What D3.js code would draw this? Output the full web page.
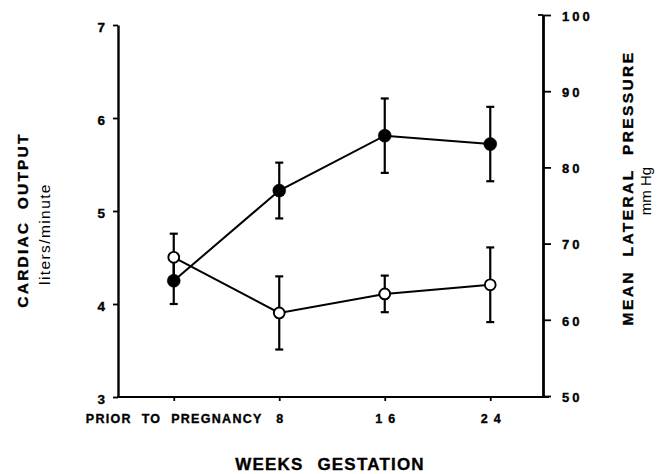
<!DOCTYPE html>
<html>
<head>
<meta charset="utf-8">
<script src="https://cdn.jsdelivr.net/npm/d3@7"></script>
<style>
  html, body { margin: 0; padding: 0; background: #fff; }
  svg { display: block; font-family: "Liberation Sans", Arial, Helvetica, sans-serif; }
  .heavy { font-weight: bold; stroke: #000; stroke-width: 0.35px; }
</style>
</head>
<body>
<svg id="chart" width="660" height="474"></svg>
<script>
// Gestation stages along the x axis
const stages = ["PRIOR TO PREGNANCY", "8", "16", "24"];

// Cardiac output (liters/minute), filled markers, left axis
const cardiacOutput = [4.25, 5.22, 5.81, 5.72];
const cardiacOutputErr = [0.25, 0.3, 0.4, 0.4];

// Mean lateral pressure (mm Hg), open markers, right axis
const pressure = [68.2, 60.9, 63.4, 64.6];
const pressureErr = [3.1, 4.8, 2.4, 4.9];

// Axis tick values
const leftTicks = [3, 4, 5, 6, 7];
const rightTicks = [50, 60, 70, 80, 90, 100];

const svg = d3.select("#chart");

const x = d3.scalePoint().domain(stages).range([121, 543]).padding(0.5);
const yL = d3.scaleLinear().domain([3, 7]).range([397, 25]);
const yR = d3.scaleLinear().domain([50, 100]).range([396, 15]);

const leftX = 118, rightX = 543, baseY = yL(3);

// ---- axes ----
const gL = svg.append("g").attr("transform", `translate(${leftX},0)`)
  .call(d3.axisLeft(yL).tickValues(leftTicks).tickFormat(d3.format("d"))
    .tickSize(5).tickSizeOuter(0).tickPadding(8));
gL.select(".domain").attr("stroke-width", 2.4);
gL.selectAll(".tick line").attr("stroke-width", 1.8);
gL.selectAll(".tick text").attr("class", "heavy").attr("font-size", 13.5)
  .attr("dy", "0.5em").attr("fill", "#000");

const gR = svg.append("g").attr("transform", `translate(${rightX},0)`)
  .call(d3.axisRight(yR).tickValues(rightTicks).tickSize(8).tickSizeOuter(0).tickPadding(11));
gR.select(".domain").attr("stroke-width", 2.8);
gR.selectAll(".tick line").attr("stroke-width", 1.8);
gR.selectAll(".tick text").attr("class", "heavy").attr("font-size", 13)
  .attr("letter-spacing", "3px").attr("dy", "0.4em").attr("fill", "#000");
// cap at the top of the pressure axis
svg.append("line").attr("x1", rightX - 5).attr("x2", rightX)
  .attr("y1", yR(100)).attr("y2", yR(100)).attr("stroke", "#000").attr("stroke-width", 1.8);

const gB = svg.append("g").attr("transform", `translate(0,${baseY})`)
  .call(d3.axisBottom(x).tickSize(4).tickSizeOuter(0).tickPadding(13));
gB.select(".domain").remove();
gB.selectAll(".tick line").attr("stroke-width", 1.8);
gB.selectAll(".tick text").attr("class", "heavy").attr("font-size", 12.5).attr("fill", "#000")
  .attr("letter-spacing", d => d === stages[0] ? "1.3px" : "6px")
  .attr("word-spacing", "5px")
  .attr("dx", d => d === stages[0] ? "0" : "3px");
svg.append("line").attr("x1", leftX - 1).attr("x2", rightX + 6)
  .attr("y1", baseY).attr("y2", baseY).attr("stroke", "#000").attr("stroke-width", 2.2);

// ---- axis titles ----
svg.append("text").attr("class", "heavy").attr("transform", `translate(28,220) rotate(-90)`)
  .attr("text-anchor", "middle").attr("font-size", 15.5)
  .attr("letter-spacing", "2.2px").attr("word-spacing", "5px").text("CARDIAC OUTPUT");
svg.append("text").attr("transform", `translate(50,234) rotate(-90)`)
  .attr("text-anchor", "middle").attr("font-size", 15.5).attr("letter-spacing", "1.4px")
  .text("liters/minute");

svg.append("text").attr("class", "heavy").attr("transform", `translate(633,188) rotate(-90)`)
  .attr("text-anchor", "middle").attr("font-size", 15.5)
  .attr("letter-spacing", "2.4px").attr("word-spacing", "7px").text("MEAN LATERAL PRESSURE");
svg.append("text").attr("transform", `translate(651,191) rotate(-90)`)
  .attr("text-anchor", "middle").attr("font-size", 15).text("mm Hg");

svg.append("text").attr("class", "heavy").attr("x", 330).attr("y", 470).attr("text-anchor", "middle")
  .attr("font-size", 17).attr("letter-spacing", "1.2px")
  .attr("word-spacing", "8px").text("WEEKS GESTATION");

// ---- series ----
const series = [
  { values: cardiacOutput, err: cardiacOutputErr, y: yL, filled: true },
  { values: pressure, err: pressureErr, y: yR, filled: false }
];

const line = (ys) => d3.line().x((d, i) => x(stages[i])).y(d => ys(d));

series.forEach(s => {
  svg.append("path").datum(s.values).attr("d", line(s.y))
    .attr("fill", "none").attr("stroke", "#000").attr("stroke-width", 2);
});

const cap = 4;
series.forEach(s => {
  const g = svg.append("g").attr("stroke", "#000").attr("stroke-width", 2.2);
  s.values.forEach((v, i) => {
    const cx = x(stages[i]);
    const top = s.y(v + s.err[i]), bot = s.y(v - s.err[i]);
    g.append("line").attr("x1", cx).attr("x2", cx).attr("y1", top).attr("y2", bot);
    g.append("line").attr("x1", cx - cap).attr("x2", cx + cap).attr("y1", top).attr("y2", top);
    g.append("line").attr("x1", cx - cap).attr("x2", cx + cap).attr("y1", bot).attr("y2", bot);
  });
});

series.forEach(s => {
  svg.append("g").selectAll("circle").data(s.values).join("circle")
    .attr("cx", (d, i) => x(stages[i])).attr("cy", d => s.y(d))
    .attr("r", s.filled ? 6.5 : 5.4)
    .attr("fill", s.filled ? "#000" : "#fff")
    .attr("stroke", "#000").attr("stroke-width", s.filled ? 0.5 : 1.9);
});
</script>
</body>
</html>
